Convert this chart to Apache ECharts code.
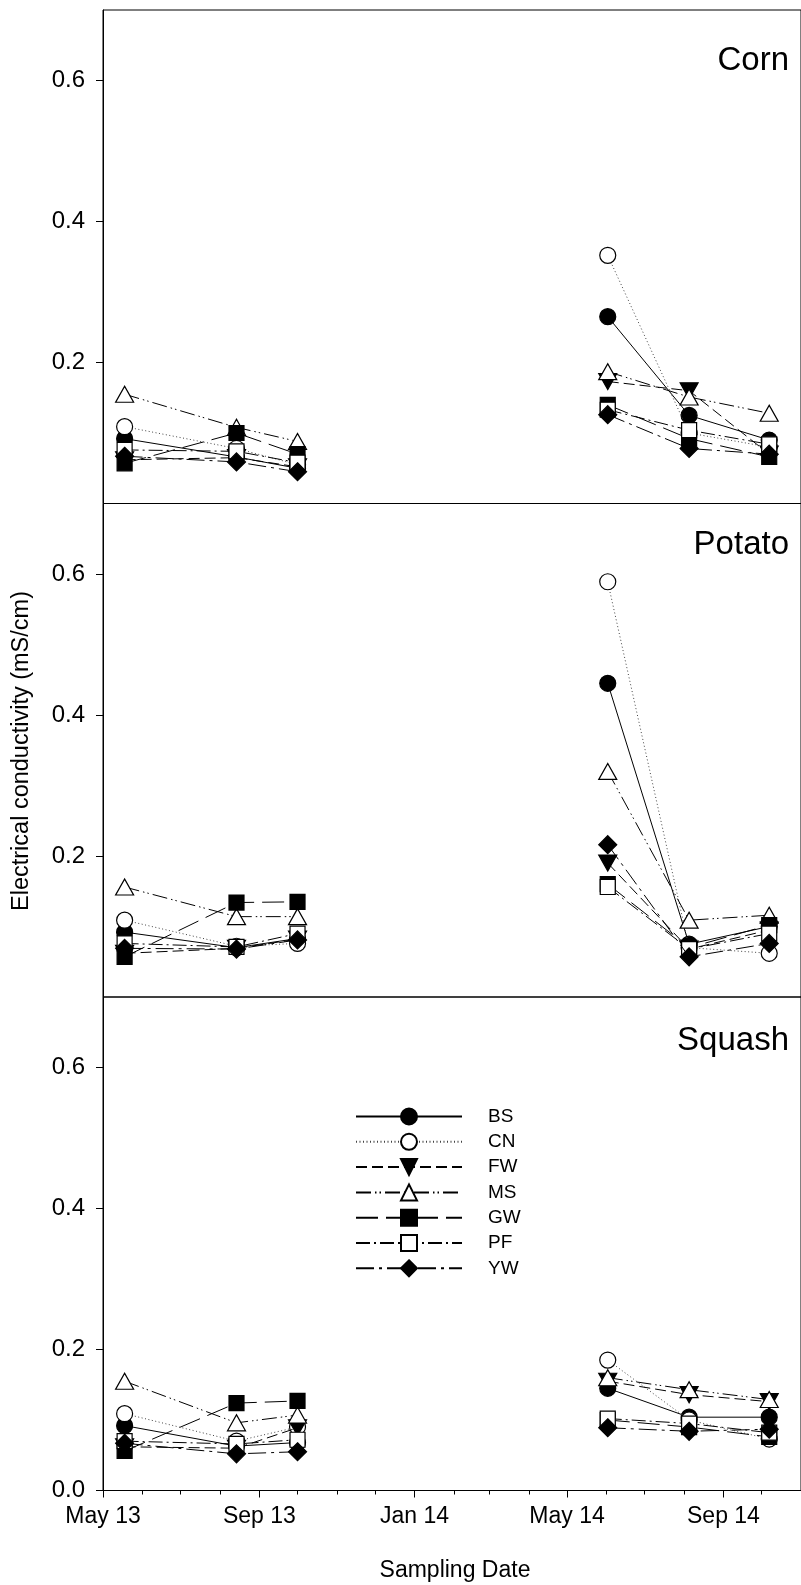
<!DOCTYPE html>
<html><head><meta charset="utf-8">
<script src="https://cdn.jsdelivr.net/npm/echarts@6/dist/echarts.min.js"></script>
<style>html,body{margin:0;padding:0;background:#fff}#c{width:801px;height:1585px}</style>
</head><body><div id="c"></div>
<script>
// ---- data ----
const sampleDates = ['2013-05-18','2013-08-14','2013-10-01','2014-06-02','2014-08-05','2014-10-07'];
const treatments = ['BS','CN','FW','MS','GW','PF','YW'];
const panelNames = ['Corn','Potato','Squash'];
// values per treatment (order of treatments), per sampling date
const cornValues = [
  [0.092, 0.066, 0.050, 0.265, 0.125, 0.090], // BS
  [0.109, 0.078, 0.055, 0.352, 0.100, 0.080], // CN
  [0.062, 0.065, 0.052, 0.173, 0.160, 0.070], // FW
  [0.155, 0.108, 0.088, 0.187, 0.151, 0.128], // MS
  [0.057, 0.100, 0.070, 0.140, 0.092, 0.066], // GW
  [0.076, 0.074, 0.058, 0.133, 0.104, 0.084], // PF
  [0.067, 0.059, 0.045, 0.126, 0.078, 0.070]  // YW
];
const potatoValues = [
  [0.092, 0.070, 0.083, 0.445, 0.075, 0.100],
  [0.109, 0.072, 0.076, 0.589, 0.070, 0.062],
  [0.062, 0.069, 0.082, 0.190, 0.068, 0.095],
  [0.156, 0.114, 0.114, 0.320, 0.109, 0.116],
  [0.057, 0.134, 0.135, 0.160, 0.070, 0.102],
  [0.076, 0.071, 0.090, 0.156, 0.068, 0.090],
  [0.069, 0.068, 0.081, 0.216, 0.057, 0.076]
];
const squashValues = [
  [0.092, 0.063, 0.068, 0.145, 0.104, 0.104],
  [0.109, 0.070, 0.090, 0.185, 0.100, 0.073],
  [0.062, 0.060, 0.089, 0.155, 0.136, 0.126],
  [0.155, 0.096, 0.107, 0.160, 0.143, 0.129],
  [0.056, 0.124, 0.127, 0.100, 0.090, 0.076],
  [0.070, 0.066, 0.072, 0.102, 0.095, 0.082],
  [0.067, 0.052, 0.055, 0.089, 0.084, 0.087]
];
const majorTickDates = ['2013-05-01','2013-09-01','2014-01-01','2014-05-01','2014-09-01'];
const majorTickLabels = ['May 13','Sep 13','Jan 14','May 14','Sep 14'];
const yTicksUpper = [0.2, 0.4, 0.6];
const yTicksLower = [0.0, 0.2, 0.4, 0.6];
const xMin = '2013-05-01', xMax = '2014-11-01';
const yMin = 0, yMax = 0.7;

// ---- helpers ----
function ts(s){ const p = s.split('-').map(Number); return Date.UTC(p[0], p[1]-1, p[2]); }
const FONT = "'Liberation Sans', Arial, sans-serif";
const majorTicks = majorTickDates.map(ts);
const monthTicks = [];
{ let y = 2013, m = 4; const end = ts(xMax);
  while (Date.UTC(y, m, 1) <= end) { monthTicks.push(Date.UTC(y, m, 1)); m++; if (m > 11) { m = 0; y++; } } }

const styles = {
  BS: {symbol:'circle', size:16, fill:'#000', dash:'solid', color:'#000'},
  CN: {symbol:'circle', size:16, fill:'#fff', dash:[1,2.5], color:'#444'},
  FW: {symbol:'path://M0,0L20,0L10,17Z', size:[18,16], fill:'#000', dash:[11,5], color:'#000'},
  MS: {symbol:'triangle', size:[18,16], fill:'#fff', dash:[15,4,1.5,3,1.5,4], color:'#000'},
  GW: {symbol:'rect', size:[15,15], fill:'#000', dash:[22,8], color:'#000'},
  PF: {symbol:'rect', size:[15,15], fill:'#fff', dash:[14,4,2,4], color:'#000'},
  YW: {symbol:'diamond', size:[18,18], fill:'#000', dash:[18,5,3,5], color:'#000'}
};

const panelValues = [cornValues, potatoValues, squashValues];
const GL = 103, GW_ = 705.7, GH = 493.5, tops = [10, 503.5, 997];

const grid = tops.map(t => ({left: GL, top: t, width: GW_, height: GH, show: true,
  borderColor: '#000', borderWidth: 1, backgroundColor: 'transparent'}));

function nearestLabel(v) {
  let k = 0, b = Infinity;
  majorTicks.forEach((m, j) => { if (Math.abs(m - v) < b) { b = Math.abs(m - v); k = j; } });
  return majorTickLabels[k];
}

const xAxis = [0,1,2].map(i => ({
  type: 'value', gridIndex: i, min: ts(xMin), max: ts(xMax), position: 'bottom',
  show: i === 2,
  axisLine: {show: true, lineStyle: {color: '#000', width: 1}},
  axisTick: {show: true, inside: false, length: 7, customValues: majorTicks, lineStyle: {color: '#000'}},
  axisLabel: {show: true, customValues: majorTicks, margin: 15, color: '#000', fontSize: 23, fontFamily: FONT,
    formatter: v => nearestLabel(v)},
  splitLine: {show: false}
}));
xAxis.push({
  type: 'value', gridIndex: 2, min: ts(xMin), max: ts(xMax), position: 'bottom',
  axisLine: {show: false}, axisLabel: {show: false}, splitLine: {show: false},
  axisTick: {show: true, inside: false, length: 4, customValues: monthTicks, lineStyle: {color: '#000'}}
});

const yAxis = [0,1,2].map(i => {
  const ticks = i === 2 ? yTicksLower : yTicksUpper;
  return {
    type: 'value', gridIndex: i, min: yMin, max: yMax,
    axisLine: {show: true, lineStyle: {color: '#000', width: 1}},
    axisTick: {show: true, inside: false, length: 7, customValues: ticks, lineStyle: {color: '#000'}},
    axisLabel: {customValues: ticks, margin: 18, color: '#000', fontSize: 24, fontFamily: FONT,
      formatter: v => Number(v).toFixed(1)},
    splitLine: {show: false}
  };
});

const series = [];
panelValues.forEach((vals, p) => {
  treatments.forEach((t, k) => {
    const st = styles[t];
    [[0,3],[3,6]].forEach(([a, b]) => {
      const data = [];
      for (let j = a; j < b; j++) data.push([ts(sampleDates[j]), vals[k][j]]);
      series.push({
        type: 'line', name: t, xAxisIndex: p, yAxisIndex: p, data,
        symbol: st.symbol, symbolSize: st.size, showAllSymbol: true,
        lineStyle: {color: st.color, width: 1, type: st.dash},
        itemStyle: {color: st.fill, borderColor: '#000', borderWidth: 1.2},
        emphasis: {disabled: true}, animation: false, z: 2 + k
      });
    });
  });
});

const graphic = [
  ...panelNames.map((n, i) => ({type: 'text', style: {x: 789, y: [60.5, 544.5, 1041][i], text: n,
     fontSize: 33, fontFamily: FONT, fill: '#000', align: 'right', verticalAlign: 'middle'}})),
  {type: 'text', rotation: Math.PI/2, x: 22, y: 751, style: {x: 0, y: 0, text: 'Electrical conductivity (mS/cm)',
     fontSize: 23.5, fontFamily: FONT, fill: '#000', align: 'center', verticalAlign: 'middle'}},
  {type: 'text', style: {x: 455, y: 1571, text: 'Sampling Date', fontSize: 23, fontFamily: FONT,
     fill: '#000', align: 'center', verticalAlign: 'middle'}}
];

const chart = echarts.init(document.getElementById('c'), null, {renderer: 'canvas'});
chart.setOption({
  animation: false,
  backgroundColor: '#fff',
  grid, xAxis, yAxis, series, graphic,
  legend: {show: true, orient: 'vertical', left: 355, top: 1107, itemWidth: 106, itemHeight: 20, itemGap: 6.3,
    padding: 0, selectedMode: false, data: treatments,
    textStyle: {fontSize: 19, fontFamily: FONT, color: '#000', padding: [0,0,0,21]}}
});
</script></body></html>
